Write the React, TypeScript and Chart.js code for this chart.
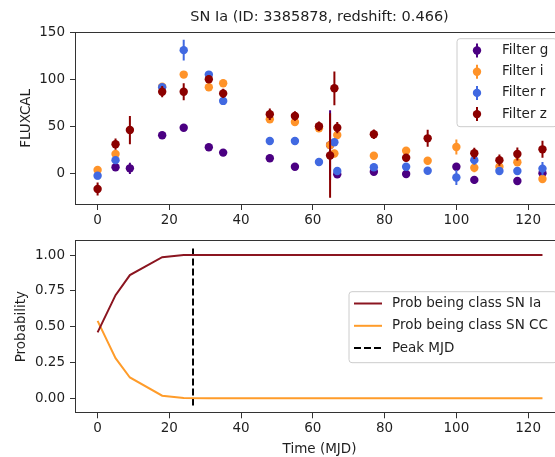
import React, { useEffect, useRef } from "react";
import { Chart, registerables } from "chart.js";

Chart.register(...registerables);

const FONT = "'DejaVu Sans', 'Liberation Sans', sans-serif";
const TEXT = "#1f1f1f";

// ---- Tick labels ----
const timeTicks = [0, 20, 40, 60, 80, 100, 120];
const fluxTicks = [0, 50, 100, 150];
const probTicks = [0, 0.25, 0.5, 0.75, 1.0];

// ---- Light-curve data (FLUXCAL) per filter ----
const gTime = [5, 9, 18, 24, 31, 35, 48, 55, 64.8, 66.8, 77, 86, 100, 105, 117, 124];
const gFlux = [6.4, 5.3, 40.4, 48.5, 27.7, 22, 16, 7, 30, -1, 1.7, -0.7, 7, -7, -8.2, 0];
const gErr = [3, 6, 2, 2, 2, 2, 2, 2, 37, 4, 3, 3, 4, 4, 3, 4];

const iTime = [0, 5, 18, 24, 31, 35, 48, 55, 61.7, 64.8, 66, 66.8, 77, 86, 92, 100, 105, 112, 117, 124];
const iFlux = [3.5, 20.5, 92, 105, 91.5, 95.7, 57.4, 54.6, 48, 30, 21, 40.7, 18.7, 24, 13.4, 28, 6, 7, 11.7, -6];
const iErr = [4, 4, 4, 3, 3, 4, 3, 3, 3, 4, 4, 4, 3, 4, 4, 8, 5, 4, 4, 4];

const rTime = [0, 5, 18, 24, 31, 35, 48, 55, 61.7, 66, 66.8, 77, 86, 92, 100, 105, 112, 117, 124];
const rFlux = [-2.5, 14, 91.5, 131, 105, 77, 34.4, 34.4, 12, 33, 2.5, 6.4, 7, 2.8, -4.5, 14, 2.4, 2.4, 5];
const rErr = [4, 4, 3, 11, 3, 3, 2, 2, 2, 3, 4, 3, 3, 3, 8, 5, 3, 4, 7];

const zTime = [0, 5, 9, 18, 24, 31, 35, 48, 55, 61.7, 64.8, 66, 66.8, 77, 86, 92, 105, 112, 117, 124];
const zFlux = [-16.7, 31, 46, 86.8, 86.8, 100, 85, 62.8, 61, 50, 19, 90.4, 48.5, 41.5, 16.6, 37.2, 21.3, 14, 20.5, 25.5];
const zErr = [7, 6, 15, 6, 9, 4, 5, 6, 5, 5, 45, 18, 6, 5, 4, 9, 6, 6, 7, 9];

// ---- Classification probabilities ----
const probTime = [0, 5, 9, 18, 24, 31, 35, 48, 55, 62, 65, 66, 67, 77, 86, 92, 100, 105, 112, 117, 124];
const probIa = [0.46, 0.72, 0.86, 0.985, 1.0, 1.0, 1.0, 1.0, 1.0, 1.0, 1.0, 1.0, 1.0, 1.0, 1.0, 1.0, 1.0, 1.0, 1.0, 1.0, 1.0];
const probCC = [0.54, 0.28, 0.145, 0.018, 0.002, 0, 0, 0, 0, 0, 0, 0, 0, 0, 0, 0, 0, 0, 0, 0, 0];
const peakMJD = [26.6, 26.6];
const peakRange = [-0.05, 1.05];

const titleText = "SN Ia (ID: 3385878, redshift: 0.466)";

const toPts = (xs: number[], ys: number[]) => xs.map((x, i) => ({ x, y: ys[i] }));

const errorBarPlugin = {
  id: "errorBars",
  beforeDatasetDraw(chart: any, args: any) {
    const ds = chart.data.datasets[args.index];
    const errs: number[] | undefined = ds.errors;
    if (!errs) return;
    const { ctx, chartArea, scales } = chart;
    const xs = scales.x;
    const ys = scales.y;
    ctx.save();
    ctx.beginPath();
    ctx.rect(chartArea.left, chartArea.top, chartArea.right - chartArea.left, chartArea.bottom - chartArea.top);
    ctx.clip();
    ctx.strokeStyle = ds.backgroundColor;
    ctx.lineWidth = 2;
    ctx.beginPath();
    ds.data.forEach((p: any, i: number) => {
      const px = xs.getPixelForValue(p.x);
      ctx.moveTo(px, ys.getPixelForValue(p.y - errs[i]));
      ctx.lineTo(px, ys.getPixelForValue(p.y + errs[i]));
    });
    ctx.stroke();
    ctx.restore();
  },
};

const framePlugin = {
  id: "frame",
  afterDatasetsDraw(chart: any) {
    const { ctx, chartArea } = chart;
    ctx.save();
    ctx.strokeStyle = "#333333";
    ctx.lineWidth = 1;
    const l = Math.round(chartArea.left) + 0.5;
    const t = Math.round(chartArea.top) + 0.5;
    const r = Math.round(chartArea.right) - 0.5;
    const b = Math.round(chartArea.bottom) - 0.5;
    ctx.strokeRect(l, t, r - l, b - t);
    ctx.restore();
  },
};

const legendPlugin = {
  id: "mplLegend",
  afterDraw(chart: any, _args: any, opts: any) {
    if (!opts || !opts.box) return;
    const { ctx } = chart;
    const { x, y, w, h } = opts.box;
    ctx.save();
    const rad = 3;
    ctx.beginPath();
    ctx.moveTo(x + rad, y);
    ctx.lineTo(x + w - rad, y);
    ctx.arcTo(x + w, y, x + w, y + rad, rad);
    ctx.lineTo(x + w, y + h - rad);
    ctx.arcTo(x + w, y + h, x + w - rad, y + h, rad);
    ctx.lineTo(x + rad, y + h);
    ctx.arcTo(x, y + h, x, y + h - rad, rad);
    ctx.lineTo(x, y + rad);
    ctx.arcTo(x, y, x + rad, y, rad);
    ctx.closePath();
    ctx.fillStyle = "rgba(255,255,255,0.8)";
    ctx.fill();
    ctx.strokeStyle = "#cccccc";
    ctx.lineWidth = 1;
    ctx.stroke();

    const items = chart.data.datasets;
    items.forEach((ds: any, i: number) => {
      const cy = opts.rowY[i];
      if (opts.kind === "errorbar") {
        ctx.strokeStyle = ds.backgroundColor;
        ctx.lineWidth = 2;
        ctx.beginPath();
        ctx.moveTo(opts.handleX, cy - 7);
        ctx.lineTo(opts.handleX, cy + 7);
        ctx.stroke();
        ctx.fillStyle = ds.backgroundColor;
        ctx.beginPath();
        ctx.arc(opts.handleX, cy, 4.2, 0, Math.PI * 2);
        ctx.fill();
      } else {
        ctx.strokeStyle = ds.borderColor;
        ctx.lineWidth = 2;
        ctx.setLineDash(ds.borderDash || []);
        ctx.beginPath();
        ctx.moveTo(opts.handleX0, cy);
        ctx.lineTo(opts.handleX1, cy);
        ctx.stroke();
        ctx.setLineDash([]);
      }
      ctx.fillStyle = TEXT;
      ctx.font = `13.5px ${FONT}`;
      ctx.textBaseline = "middle";
      ctx.textAlign = "left";
      ctx.fillText(ds.label, opts.textX, cy);
    });
    ctx.restore();
  },
};

const tickFont = { family: FONT, size: 13.5 };

function xAxis(height: number, title?: string) {
  return {
    type: "linear",
    min: -6.3,
    max: 130,
    afterBuildTicks: (s: any) => {
      s.ticks = timeTicks.map((v) => ({ value: v }));
    },
    afterFit: (s: any) => {
      s.height = height;
    },
    ticks: { font: tickFont, color: TEXT, padding: 2, autoSkip: false, maxRotation: 0, callback: (v: number) => String(v) },
    grid: { display: true, drawOnChartArea: false, drawTicks: true, tickLength: 5, color: "#333333", lineWidth: 1 },
    border: { display: false },
    title: title
      ? { display: true, text: title, font: { family: FONT, size: 13.5 }, color: TEXT, padding: { top: 0, bottom: 0 } }
      : { display: false },
  };
}

function yAxis(min: number, max: number, ticks: number[], fmt: (v: number) => string, title: string, titlePad: number) {
  return {
    type: "linear",
    min,
    max,
    afterBuildTicks: (s: any) => {
      s.ticks = ticks.map((v) => ({ value: v }));
    },
    afterFit: (s: any) => {
      s.width = 75;
    },
    ticks: { font: tickFont, color: TEXT, padding: 5, autoSkip: false, callback: (v: number) => fmt(v) },
    grid: { display: true, drawOnChartArea: false, drawTicks: true, tickLength: 5, color: "#333333", lineWidth: 1 },
    border: { display: false },
    title: { display: true, text: title, font: { family: FONT, size: 13.5 }, color: TEXT, padding: { top: titlePad, bottom: 0 } },
  };
}

export default function App() {
  const topRef = useRef<HTMLCanvasElement>(null);
  const botRef = useRef<HTMLCanvasElement>(null);

  useEffect(() => {
    const mk = (label: string, color: string, t: number[], f: number[], e: number[], order: number) => ({
      label,
      data: toPts(t, f),
      errors: e,
      backgroundColor: color,
      borderColor: color,
      pointRadius: 4.2,
      pointBorderWidth: 0,
      showLine: false,
      order,
    });
    const top = new Chart(topRef.current as HTMLCanvasElement, {
      type: "scatter",
      data: {
        datasets: [
          mk("Filter g", "#4b0082", gTime, gFlux, gErr, 4),
          mk("Filter i", "#ff9329", iTime, iFlux, iErr, 3),
          mk("Filter r", "#4169e1", rTime, rFlux, rErr, 2),
          mk("Filter z", "#8b0000", zTime, zFlux, zErr, 1),
        ] as any,
      },
      options: {
        responsive: false,
        animation: false,
        events: [],
        layout: { padding: { left: 0, right: 36, top: 0, bottom: 0 } },
        scales: {
          x: xAxis(25) as any,
          y: yAxis(-33.7, 150.6, fluxTicks, (v) => String(v), "FLUXCAL", 18.6) as any,
        },
        plugins: {
          legend: { display: false },
          tooltip: { enabled: false },
          title: {
            display: true,
            text: titleText,
            fullSize: false,
            color: TEXT,
            font: { family: FONT, size: 14.5, weight: "normal" },
            padding: { top: 9, bottom: 5.3 },
          },
          mplLegend: {
            kind: "errorbar",
            box: { x: 457, y: 38.7, w: 100, h: 88 },
            rowY: [50.5, 71.7, 92.9, 114.1],
            handleX: 477,
            textX: 502,
          },
        } as any,
      },
      plugins: [errorBarPlugin, framePlugin, legendPlugin],
    });

    const bot = new Chart(botRef.current as HTMLCanvasElement, {
      type: "line",
      data: {
        datasets: [
          {
            label: "Prob being class SN Ia",
            data: toPts(probTime, probIa),
            borderColor: "#8b1520",
            backgroundColor: "#8b1520",
            borderWidth: 2,
            pointRadius: 0,
            tension: 0,
          },
          {
            label: "Prob being class SN CC",
            data: toPts(probTime, probCC),
            borderColor: "#ff9c2a",
            backgroundColor: "#ff9c2a",
            borderWidth: 2,
            pointRadius: 0,
            tension: 0,
          },
          {
            label: "Peak MJD",
            data: toPts(peakMJD, peakRange),
            borderColor: "#000000",
            backgroundColor: "#000000",
            borderWidth: 2,
            borderDash: [7, 3],
            pointRadius: 0,
          },
        ] as any,
      },
      options: {
        responsive: false,
        animation: false,
        events: [],
        layout: { padding: { left: 0, right: 36, top: 18, bottom: 0 } },
        scales: {
          x: xAxis(44.7, "Time (MJD)") as any,
          y: yAxis(-0.105, 1.105, probTicks, (v) => v.toFixed(2), "Probability", 13.6) as any,
        },
        plugins: {
          legend: { display: false },
          tooltip: { enabled: false },
          title: { display: false },
          mplLegend: {
            kind: "line",
            box: { x: 349, y: 291.7 - 222, w: 208, h: 71 },
            rowY: [303.5 - 222, 325.8 - 222, 348 - 222],
            handleX0: 354,
            handleX1: 382,
            textX: 392,
          },
        } as any,
      },
      plugins: [framePlugin, legendPlugin],
    });

    return () => {
      top.destroy();
      bot.destroy();
    };
  }, []);

  return (
    <div style={{ position: "absolute", left: 0, top: 0, width: 555, height: 457, overflow: "hidden", background: "#ffffff" }}>
      <canvas ref={topRef} width={600} height={230} style={{ position: "absolute", left: 0, top: 0, width: 600, height: 230 }} />
      <canvas ref={botRef} width={600} height={236} style={{ position: "absolute", left: 0, top: 222, width: 600, height: 236 }} />
    </div>
  );
}
